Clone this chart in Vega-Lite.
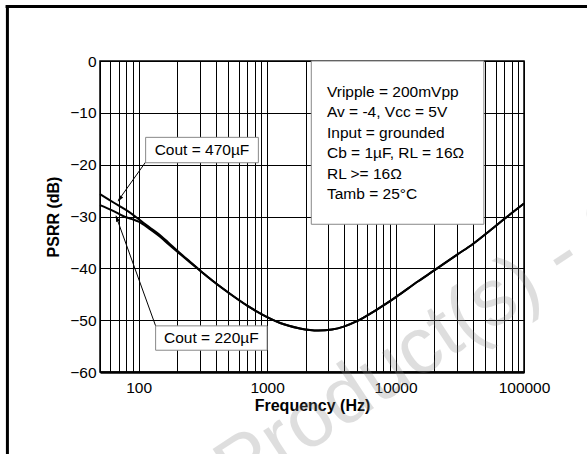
{
  "$schema": "https://vega.github.io/schema/vega-lite/v6.json",
  "width": 424,
  "height": 311,
  "autosize": {"type": "none"},
  "padding": {"left": 100, "top": 61, "right": 63, "bottom": 82},
  "background": "white",
  "config": {
    "view": {"stroke": "black", "strokeWidth": 1.5},
    "font": "Liberation Sans"
  },
  "data": {
    "values": [
      {"Cout": "470µF", "f": 50, "db": -25.7},
      {"Cout": "470µF", "f": 59, "db": -26.8},
      {"Cout": "470µF", "f": 70, "db": -27.9},
      {"Cout": "470µF", "f": 84, "db": -29.1},
      {"Cout": "470µF", "f": 100, "db": -30.5},
      {"Cout": "470µF", "f": 120, "db": -32.0},
      {"Cout": "470µF", "f": 150, "db": -33.8},
      {"Cout": "470µF", "f": 170, "db": -35.0},
      {"Cout": "470µF", "f": 200, "db": -36.6},
      {"Cout": "470µF", "f": 250, "db": -38.7},
      {"Cout": "470µF", "f": 300, "db": -40.4},
      {"Cout": "470µF", "f": 385, "db": -42.6},
      {"Cout": "470µF", "f": 520, "db": -45.0},
      {"Cout": "470µF", "f": 700, "db": -47.2},
      {"Cout": "470µF", "f": 1000, "db": -49.4},
      {"Cout": "470µF", "f": 1350, "db": -50.8},
      {"Cout": "470µF", "f": 1800, "db": -51.6},
      {"Cout": "470µF", "f": 2500, "db": -52.0},
      {"Cout": "470µF", "f": 3200, "db": -51.8},
      {"Cout": "470µF", "f": 4000, "db": -51.2},
      {"Cout": "470µF", "f": 5000, "db": -50.2},
      {"Cout": "470µF", "f": 7000, "db": -48.1},
      {"Cout": "470µF", "f": 10000, "db": -45.6},
      {"Cout": "470µF", "f": 15000, "db": -42.5},
      {"Cout": "470µF", "f": 20000, "db": -40.4},
      {"Cout": "470µF", "f": 30000, "db": -37.4},
      {"Cout": "470µF", "f": 40000, "db": -35.3},
      {"Cout": "470µF", "f": 55000, "db": -32.6},
      {"Cout": "470µF", "f": 70000, "db": -30.5},
      {"Cout": "470µF", "f": 100000, "db": -27.5},
      {"Cout": "220µF", "f": 50, "db": -27.8},
      {"Cout": "220µF", "f": 62, "db": -28.8},
      {"Cout": "220µF", "f": 77, "db": -30.0},
      {"Cout": "220µF", "f": 89, "db": -30.5},
      {"Cout": "220µF", "f": 100, "db": -31.0},
      {"Cout": "220µF", "f": 120, "db": -32.3},
      {"Cout": "220µF", "f": 150, "db": -34.1},
      {"Cout": "220µF", "f": 170, "db": -35.3},
      {"Cout": "220µF", "f": 200, "db": -36.8},
      {"Cout": "220µF", "f": 250, "db": -38.8},
      {"Cout": "220µF", "f": 300, "db": -40.4},
      {"Cout": "220µF", "f": 385, "db": -42.6},
      {"Cout": "220µF", "f": 520, "db": -45.0},
      {"Cout": "220µF", "f": 700, "db": -47.2},
      {"Cout": "220µF", "f": 1000, "db": -49.4},
      {"Cout": "220µF", "f": 1350, "db": -50.8},
      {"Cout": "220µF", "f": 1800, "db": -51.6},
      {"Cout": "220µF", "f": 2500, "db": -52.0},
      {"Cout": "220µF", "f": 3200, "db": -51.8},
      {"Cout": "220µF", "f": 4000, "db": -51.2},
      {"Cout": "220µF", "f": 5000, "db": -50.2},
      {"Cout": "220µF", "f": 7000, "db": -48.1},
      {"Cout": "220µF", "f": 10000, "db": -45.6},
      {"Cout": "220µF", "f": 15000, "db": -42.5},
      {"Cout": "220µF", "f": 20000, "db": -40.4},
      {"Cout": "220µF", "f": 30000, "db": -37.4},
      {"Cout": "220µF", "f": 40000, "db": -35.3},
      {"Cout": "220µF", "f": 55000, "db": -32.6},
      {"Cout": "220µF", "f": 70000, "db": -30.5},
      {"Cout": "220µF", "f": 100000, "db": -27.5}
    ]
  },
  "layer": [
    {
      "mark": {"type": "line", "color": "black", "strokeWidth": 2, "interpolate": "monotone"},
      "encoding": {
        "x": {
          "field": "f", "type": "quantitative",
          "scale": {"type": "log", "domain": [50, 100000], "nice": false},
          "axis": {
            "values": [50, 60, 70, 80, 90, 100, 200, 300, 400, 500, 600, 700, 800, 900, 1000, 2000, 3000, 4000, 5000, 6000, 7000, 8000, 9000, 10000, 20000, 30000, 40000, 50000, 60000, 70000, 80000, 90000, 100000],
            "labelExpr": "indexof([100, 1000, 10000, 100000], datum.value) >= 0 ? format(datum.value, 'd') : ''",
            "title": "Frequency (Hz)",
            "grid": true, "gridColor": "black", "gridWidth": 1, "gridOpacity": 1,
            "ticks": false, "domain": true, "domainColor": "black", "domainWidth": 2.5,
            "labelFont": "Liberation Sans", "labelFontSize": 15.5, "labelColor": "black", "labelPadding": 8,
            "labelOverlap": false, "labelFlush": false, "labelBound": false,
            "titleFont": "Liberation Sans", "titleFontSize": 16, "titleFontWeight": "bold", "titleColor": "black", "titlePadding": 2
          }
        },
        "y": {
          "field": "db", "type": "quantitative",
          "scale": {"domain": [-60, 0], "nice": false, "zero": false},
          "axis": {
            "values": [-60, -55, -50, -45, -40, -35, -30, -25, -20, -15, -10, -5, 0],
            "labelExpr": "datum.value % 10 === 0 ? datum.label : ''",
            "title": "PSRR (dB)",
            "grid": true, "gridColor": "black", "gridWidth": 1, "gridOpacity": 1,
            "ticks": false, "domain": false,
            "labelFont": "Liberation Sans", "labelFontSize": 15.5, "labelColor": "black", "labelPadding": 4,
            "labelOverlap": false, "labelFlush": false, "labelBound": false,
            "titleFont": "Liberation Sans", "titleFontSize": 16, "titleFontWeight": "bold", "titleColor": "black", "titlePadding": 8
          }
        },
        "detail": {"field": "Cout", "type": "nominal"}
      }
    },
    {
      "data": {"values": [{}]},
      "mark": {"type": "text", "text": "Product(s) - Obsolete", "align": "left", "baseline": "alphabetic", "angle": -33.5, "fontSize": 80, "font": "Liberation Sans", "fill": "#808080", "opacity": 0.25},
      "encoding": {
        "x": {"datum": 588, "type": "quantitative", "scale": {"type": "log", "domain": [50, 100000], "nice": false}},
        "y": {"datum": -84.4, "type": "quantitative", "scale": {"domain": [-60, 0], "nice": false, "zero": false}}
      }
    },
    {
      "data": {"values": [{}]},
      "mark": {"type": "rect", "fill": "white", "stroke": "#888888", "strokeWidth": 1},
      "encoding": {
        "x": {"datum": 2208, "type": "quantitative", "scale": {"type": "log", "domain": [50, 100000], "nice": false}},
        "x2": {"datum": 48700},
        "y": {"datum": 0, "type": "quantitative", "scale": {"domain": [-60, 0], "nice": false, "zero": false}},
        "y2": {"datum": -31.5}
      }
    },
    {
      "data": {"values": [{}]},
      "mark": {"type": "text", "text": ["Vripple = 200mVpp", "Av = -4, Vcc = 5V", "Input = grounded", "Cb = 1µF, RL = 16Ω", "RL >= 16Ω", "Tamb  = 25°C"], "align": "left", "baseline": "alphabetic", "lineHeight": 20.5, "fontSize": 15.5, "font": "Liberation Sans", "color": "black"},
      "encoding": {
        "x": {"datum": 2925, "type": "quantitative", "scale": {"type": "log", "domain": [50, 100000], "nice": false}},
        "y": {"datum": -6.9, "type": "quantitative", "scale": {"domain": [-60, 0], "nice": false, "zero": false}}
      }
    },
    {
      "data": {"values": [{}]},
      "mark": {"type": "rule", "color": "black", "strokeWidth": 1},
      "encoding": {
        "x": {"datum": 113.3, "type": "quantitative", "scale": {"type": "log", "domain": [50, 100000], "nice": false}},
        "x2": {"datum": 69.5},
        "y": {"datum": -19.5, "type": "quantitative", "scale": {"domain": [-60, 0], "nice": false, "zero": false}},
        "y2": {"datum": -26.9}
      }
    },
    {
      "data": {"values": [{}]},
      "mark": {"type": "rule", "color": "black", "strokeWidth": 1},
      "encoding": {
        "x": {"datum": 135.5, "type": "quantitative", "scale": {"type": "log", "domain": [50, 100000], "nice": false}},
        "x2": {"datum": 66.8},
        "y": {"datum": -51.1, "type": "quantitative", "scale": {"domain": [-60, 0], "nice": false, "zero": false}},
        "y2": {"datum": -30.0}
      }
    },
    {
      "data": {"values": [{}]},
      "mark": {"type": "point", "shape": "M0,0L-0.3,1L0.3,1Z", "filled": true, "color": "black", "opacity": 1, "size": 180, "angle": 215},
      "encoding": {
        "x": {"datum": 68.7, "type": "quantitative", "scale": {"type": "log", "domain": [50, 100000], "nice": false}},
        "y": {"datum": -27.16, "type": "quantitative", "scale": {"domain": [-60, 0], "nice": false, "zero": false}}
      }
    },
    {
      "data": {"values": [{}]},
      "mark": {"type": "point", "shape": "M0,0L-0.3,1L0.3,1Z", "filled": true, "color": "black", "opacity": 1, "size": 180, "angle": 340},
      "encoding": {
        "x": {"datum": 66.3, "type": "quantitative", "scale": {"type": "log", "domain": [50, 100000], "nice": false}},
        "y": {"datum": -29.73, "type": "quantitative", "scale": {"domain": [-60, 0], "nice": false, "zero": false}}
      }
    },
    {
      "data": {"values": [{}]},
      "mark": {"type": "rect", "fill": "white", "stroke": "#888888", "strokeWidth": 1},
      "encoding": {
        "x": {"datum": 113.3, "type": "quantitative", "scale": {"type": "log", "domain": [50, 100000], "nice": false}},
        "x2": {"datum": 855},
        "y": {"datum": -14.73, "type": "quantitative", "scale": {"domain": [-60, 0], "nice": false, "zero": false}},
        "y2": {"datum": -19.63}
      }
    },
    {
      "data": {"values": [{}]},
      "mark": {"type": "text", "text": "Cout = 470µF", "align": "center", "baseline": "middle", "fontSize": 15.5, "font": "Liberation Sans", "color": "black"},
      "encoding": {
        "x": {"datum": 311, "type": "quantitative", "scale": {"type": "log", "domain": [50, 100000], "nice": false}},
        "y": {"datum": -17.18, "type": "quantitative", "scale": {"domain": [-60, 0], "nice": false, "zero": false}}
      }
    },
    {
      "data": {"values": [{}]},
      "mark": {"type": "rect", "fill": "white", "stroke": "#888888", "strokeWidth": 1},
      "encoding": {
        "x": {"datum": 135.5, "type": "quantitative", "scale": {"type": "log", "domain": [50, 100000], "nice": false}},
        "x2": {"datum": 1000},
        "y": {"datum": -51.1, "type": "quantitative", "scale": {"domain": [-60, 0], "nice": false, "zero": false}},
        "y2": {"datum": -55.8}
      }
    },
    {
      "data": {"values": [{}]},
      "mark": {"type": "text", "text": "Cout = 220µF", "align": "center", "baseline": "middle", "fontSize": 15.5, "font": "Liberation Sans", "color": "black"},
      "encoding": {
        "x": {"datum": 368, "type": "quantitative", "scale": {"type": "log", "domain": [50, 100000], "nice": false}},
        "y": {"datum": -53.45, "type": "quantitative", "scale": {"domain": [-60, 0], "nice": false, "zero": false}}
      }
    },
    {
      "data": {"values": [{}]},
      "mark": {"type": "rule", "color": "black", "strokeWidth": 3},
      "encoding": {
        "x": {"datum": 9.51, "type": "quantitative", "scale": {"type": "log", "domain": [50, 100000], "nice": false}},
        "y": {"datum": 10.6, "type": "quantitative", "scale": {"domain": [-60, 0], "nice": false, "zero": false}},
        "y2": {"datum": -76}
      }
    },
    {
      "data": {"values": [{}]},
      "mark": {"type": "rule", "color": "black", "strokeWidth": 3},
      "encoding": {
        "x": {"datum": 9.2, "type": "quantitative", "scale": {"type": "log", "domain": [50, 100000], "nice": false}},
        "x2": {"datum": 310000},
        "y": {"datum": 10.52, "type": "quantitative", "scale": {"domain": [-60, 0], "nice": false, "zero": false}}
      }
    }
  ]
}
